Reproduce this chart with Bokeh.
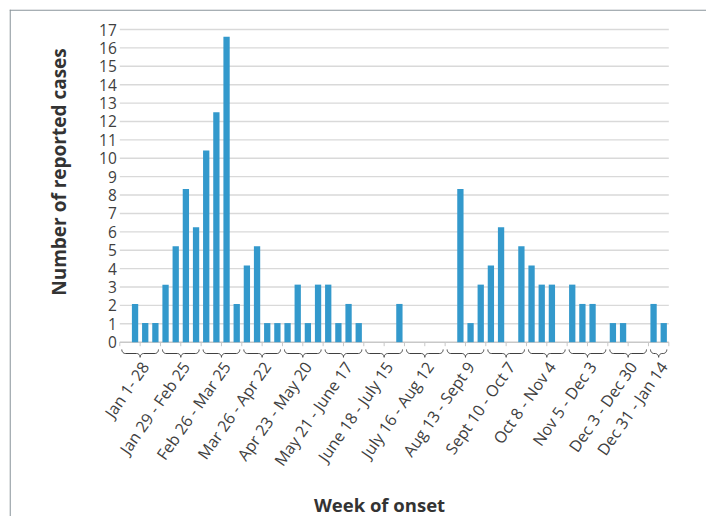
import math
import numpy as np
from bokeh.plotting import figure
from bokeh.models import Range1d, Span
from bokeh.core.properties import value
from bokeh.embed import file_html
from bokeh.resources import INLINE

# ---------------- data ----------------
# weekly bar heights (one entry per week, Jan 1 .. Jan 14 next year)
week_values = [
    0.0, 2.08, 1.04, 1.04,          # Jan 1 - 28
    3.13, 5.21, 8.33, 6.25,         # Jan 29 - Feb 25
    10.42, 12.5, 16.6, 2.08,        # Feb 26 - Mar 25
    4.17, 5.21, 1.04, 1.04,         # Mar 26 - Apr 22
    1.04, 3.13, 1.04, 3.13,         # Apr 23 - May 20
    3.13, 1.04, 2.08, 1.04,         # May 21 - June 17
    0.0, 0.0, 0.0, 2.08,            # June 18 - July 15
    0.0, 0.0, 0.0, 0.0,             # July 16 - Aug 12
    0.0, 8.33, 1.04, 3.13,          # Aug 13 - Sept 9
    4.17, 6.25, 0.0, 5.21,          # Sept 10 - Oct 7
    4.17, 3.13, 3.13, 0.0,          # Oct 8 - Nov 4
    3.13, 2.08, 2.08, 0.0,          # Nov 5 - Dec 3
    1.04, 1.04, 0.0, 0.0,           # Dec 3 - Dec 30
    2.08, 1.04,                     # Dec 31 - Jan 14
]
group_labels = [
    "Jan 1- 28", "Jan 29 - Feb 25", "Feb 26 - Mar 25", "Mar 26 - Apr 22",
    "Apr 23 - May 20", "May 21 - June 17", "June 18 - July 15", "July 16 - Aug 12",
    "Aug 13 - Sept 9", "Sept 10 - Oct 7", "Oct 8 - Nov 4", "Nov 5 - Dec 3",
    "Dec 3 - Dec 30", "Dec 31 - Jan 14",
]
group_sizes = [4] * 13 + [2]
y_ticks = list(range(0, 18))
y_title = "Number of reported cases"
x_title = "Week of onset"

# ---------------- layout (pixels) ----------------
W, H = 706, 516
FRAME_L, FRAME_T = 9, 9
X0_PX = 119.3        # left end of the category axis
SLOT_PX = 10.167     # width of one week slot
Y0_PX = 341.7        # pixel of value 0
UNIT_PX = 18.394     # pixels per unit

def dx(px):
    return px / SLOT_PX

def dy(px):
    return px / UNIT_PX

def xd(px):
    return (px - X0_PX) / SLOT_PX

def yd(px):
    return (Y0_PX - px) / UNIT_PX

n_slots = len(week_values)

p = figure(width=W, height=H, output_backend="svg", toolbar_location=None,
           x_range=Range1d(xd(FRAME_L), xd(W)), y_range=Range1d(yd(H), yd(FRAME_T)),
           x_axis_location=None, y_axis_location=None,
           min_border_left=FRAME_L, min_border_top=FRAME_T,
           min_border_right=0, min_border_bottom=0)
p.outline_line_color = None
p.background_fill_color = "white"
p.border_fill_color = "white"
p.xgrid.visible = False
p.ygrid.visible = False

FONT = value("Open Sans")
TXT = "#404040"

# frame lines (top and left)
p.add_layout(Span(location=yd(FRAME_T + 0.6), dimension="width", line_color="#8a959b", line_width=1.3))
p.add_layout(Span(location=xd(FRAME_L + 0.6), dimension="height", line_color="#8a959b", line_width=1.3))

# gridlines
grid = y_ticks[1:]
p.segment(x0=[0] * len(grid), x1=[n_slots] * len(grid), y0=grid, y1=grid,
          line_color="#d9d9d9", line_width=1.4)
# category axis line + tick marks
p.segment(x0=[0], x1=[n_slots], y0=[0], y1=[0], line_color="#c8c8c8", line_width=1.4)
tick_x = list(range(0, n_slots + 1, 2))
p.segment(x0=tick_x, x1=tick_x, y0=[0] * len(tick_x), y1=[-dy(4)] * len(tick_x),
          line_color="#c8c8c8", line_width=1)

# bars
p.vbar(x=[i + 0.5 for i in range(n_slots)], top=week_values, bottom=0, width=dx(6.3),
       fill_color="#3399cc", line_color=None)

# y tick labels
p.text(x=[0] * len(y_ticks), y=y_ticks, text=[str(t) for t in y_ticks],
       x_offset=-3, text_align="right", text_baseline="middle",
       text_font=FONT, text_font_size="15.5px", text_color=TXT)

# braces and group labels
yt, ym, yp = yd(349.0), yd(353.0), yd(356.8)
r = dx(3.5)
t = np.linspace(0, math.pi / 2, 10)
brace_xs, brace_ys, centers = [], [], []
start = 0
for size in group_sizes:
    x0 = start + dx(2)
    x1 = start + size - dx(2)
    xc = start + size / 2
    centers.append(xc)
    xs = list(x0 + r * (1 - np.cos(t)))
    ys = list(yt - (yt - ym) * np.sin(t))
    xs += list(xc - r + r * np.sin(t))
    ys += list(ym - (ym - yp) * (1 - np.cos(t)))
    xs += list(xc + r * (1 - np.cos(t)))
    ys += list(yp + (ym - yp) * np.sin(t))
    xs += list(x1 - r + r * np.sin(t))
    ys += list(ym + (yt - ym) * (1 - np.cos(t)))
    brace_xs.append(xs)
    brace_ys.append(ys)
    start += size
p.multi_line(xs=brace_xs, ys=brace_ys, line_color="#404040", line_width=1)

p.text(x=[c + dx(5) for c in centers], y=[yd(363)] * len(centers), text=group_labels,
       angle=math.radians(55), text_align="right", text_baseline="middle",
       text_font=FONT, text_font_size="16px", text_color=TXT)

# axis titles
p.text(x=[xd(58)], y=[yd(171.5)], text=[y_title], angle=math.pi / 2,
       text_align="center", text_baseline="middle", text_font=FONT,
       text_font_size="19px", text_font_style="bold", text_color="#333333")
p.text(x=[xd(379)], y=[yd(503.5)], text=[x_title],
       text_align="center", text_baseline="middle", text_font=FONT,
       text_font_size="18.5px", text_font_style="bold", text_color="#333333")

open("out.html", "w").write(file_html(p, INLINE))
